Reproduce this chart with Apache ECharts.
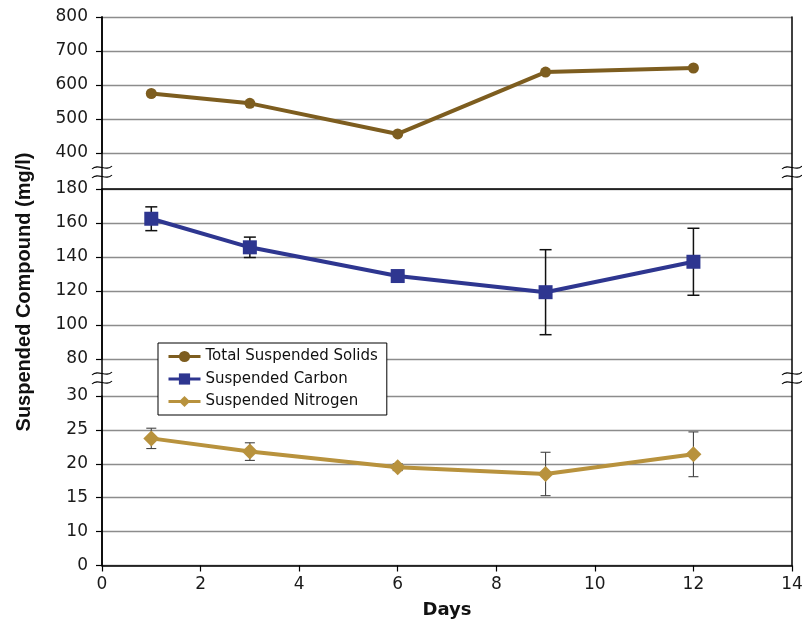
<!DOCTYPE html>
<html>
<head>
<meta charset="utf-8">
<script src="https://cdn.jsdelivr.net/npm/echarts@6/dist/echarts.min.js"></script>
<style>
  html, body { margin: 0; padding: 0; background: #fff; }
  #chart { width: 802px; height: 625px; }
</style>
</head>
<body>
<div id="chart"></div>
<script>
// ---- data ----
const days = [1, 3, 6, 9, 12];
const tssValues = [575, 546, 456, 638, 650];
const carbonValues = [162.5, 145.7, 128.8, 119.3, 137.2];
const carbonErr = [7, 6, 2, 25, 19.7];
const nitrogenValues = [23.75, 21.8, 19.5, 18.5, 21.4];
const nitrogenErr = [1.5, 1.3, 0.5, 3.2, 3.3];
const seriesNames = ['Total Suspended Solids', 'Suspended Carbon', 'Suspended Nitrogen'];
const xTicks = [0, 2, 4, 6, 8, 10, 12, 14];
const yTitle = 'Suspended Compound (mg/l)';
const xTitle = 'Days';

// ---- layout / style ----
const L = 102, R = 10, W = 802;
const colors = ['#7d5d1f', '#2e3690', '#b8923d'];
const gridGray = '#8c8c8c';
const tickFont = { fontFamily: 'DejaVu Sans', fontSize: 17, color: '#1a1a1a' };

function panelY(gridIdx, min, max, interval, extra) {
  return Object.assign({
    type: 'value', gridIndex: gridIdx, min: min, max: max, interval: interval,
    axisLine: { show: true, lineStyle: { color: '#000', width: 1.5 } },
    axisTick: { show: true, inside: false, length: 6, lineStyle: { color: '#000', width: 1.2 } },
    axisLabel: Object.assign({ margin: 14 }, tickFont),
    splitLine: { show: true, lineStyle: { color: gridGray, width: 1.3 } }
  }, extra || {});
}
function panelX(gridIdx, extra) {
  return Object.assign({
    type: 'value', gridIndex: gridIdx, min: xTicks[0], max: xTicks[xTicks.length - 1], interval: 2,
    axisLine: { show: false }, axisTick: { show: false }, axisLabel: { show: false },
    splitLine: { show: false }
  }, extra || {});
}

const chart = echarts.init(document.getElementById('chart'), null, { renderer: 'canvas' });

function errRender(color, lw, cap) {
  return function (params, api) {
    const x = api.value(0), y = api.value(1), e = api.value(2);
    const top = api.coord([x, y + e]);
    const bot = api.coord([x, y - e]);
    const st = { stroke: color, lineWidth: lw };
    return {
      type: 'group',
      children: [
        { type: 'line', shape: { x1: top[0], y1: top[1], x2: bot[0], y2: bot[1] }, style: st },
        { type: 'line', shape: { x1: top[0] - cap, y1: top[1], x2: top[0] + cap, y2: top[1] }, style: st },
        { type: 'line', shape: { x1: bot[0] - cap, y1: bot[1], x2: bot[0] + cap, y2: bot[1] }, style: st }
      ]
    };
  };
}

function breakMark(x, y) {
  const curve = (yy) => ({
    type: 'bezierCurve',
    shape: { x1: x - 10, y1: yy + 1.5, cpx1: x - 4, cpy1: yy - 5, cpx2: x + 4, cpy2: yy + 5, x2: x + 10, y2: yy - 1.5 },
    style: { stroke: '#000', lineWidth: 1.1, fill: null }
  });
  return {
    type: 'group', z: 100,
    children: [
      { type: 'rect', shape: { x: x - 3, y: y - 4.5, width: 6, height: 9 }, style: { fill: '#fff' } },
      curve(y - 4.5), curve(y + 4.5)
    ]
  };
}

const gridBase = { left: L, right: R, outerBoundsMode: 'none', containLabel: false };

const option = {
  animation: false,
  backgroundColor: '#fff',
  grid: [
    Object.assign({ top: 17, height: 136 }, gridBase),    // 800 -> 400
    Object.assign({ top: 189, height: 170 }, gridBase),   // 180 -> 80
    Object.assign({ top: 396, height: 169.5 }, gridBase), // 30 -> 5 (labelled 0)
    Object.assign({ top: 17, height: 548.5 }, gridBase)   // frame
  ],
  xAxis: [
    panelX(0),
    panelX(1, { position: 'top', axisLine: { show: true, lineStyle: { color: '#000', width: 1.5 } } }),
    panelX(2, {
      axisLine: { show: true, lineStyle: { color: '#000', width: 1.5 } },
      axisTick: { show: true, inside: false, length: 6, lineStyle: { color: '#000', width: 1.2 } },
      axisLabel: Object.assign({ show: true, margin: 11 }, tickFont),
      name: xTitle, nameLocation: 'middle', nameGap: 36,
      nameTextStyle: { fontFamily: 'DejaVu Sans', fontWeight: 'bold', fontSize: 18, color: '#111' }
    }),
    panelX(3, { show: false })
  ],
  yAxis: [
    panelY(0, 400, 800, 100),
    panelY(1, 80, 180, 20),
    panelY(2, 5, 30, 5, {
      axisLabel: Object.assign({ margin: 14, formatter: v => (v === 5 ? '0' : String(v)) }, tickFont)
    }),
    { type: 'value', gridIndex: 3, min: 0, max: 1, position: 'left',
      axisLine: { show: true, lineStyle: { color: '#000', width: 1.5 } },
      axisTick: { show: false }, axisLabel: { show: false }, splitLine: { show: false } },
    { type: 'value', gridIndex: 3, min: 0, max: 1, position: 'right',
      axisLine: { show: true, lineStyle: { color: '#000', width: 1.5 } },
      axisTick: { show: false }, axisLabel: { show: false }, splitLine: { show: false } }
  ],
  legend: {
    data: seriesNames,
    orient: 'vertical', left: 158, top: 343,
    itemWidth: 32, itemHeight: 14, itemGap: 7.5,
    padding: [6, 9, 6, 9],
    backgroundColor: '#fff', borderColor: '#000', borderWidth: 1,
    lineStyle: { width: 3 },
    textStyle: { fontFamily: 'DejaVu Sans', fontSize: 15, color: '#111' },
    z: 20
  },
  series: [
    {
      name: seriesNames[0], type: 'line', xAxisIndex: 0, yAxisIndex: 0, z: 5,
      data: days.map((d, i) => [d, tssValues[i]]),
      symbol: 'circle', symbolSize: 11,
      lineStyle: { color: colors[0], width: 4 }, itemStyle: { color: colors[0] }
    },
    {
      name: seriesNames[1], type: 'line', xAxisIndex: 1, yAxisIndex: 1, z: 5,
      data: days.map((d, i) => [d, carbonValues[i]]),
      symbol: 'rect', symbolSize: 14,
      lineStyle: { color: colors[1], width: 4 }, itemStyle: { color: colors[1] }
    },
    {
      name: seriesNames[2], type: 'line', xAxisIndex: 2, yAxisIndex: 2, z: 5,
      data: days.map((d, i) => [d, nitrogenValues[i]]),
      symbol: 'diamond', symbolSize: 16,
      lineStyle: { color: colors[2], width: 4 }, itemStyle: { color: colors[2] }
    },
    {
      type: 'custom', xAxisIndex: 1, yAxisIndex: 1, z: 4, silent: true,
      renderItem: errRender('#111', 1.5, 6),
      encode: { x: 0, y: 1 },
      data: days.map((d, i) => [d, carbonValues[i], carbonErr[i]])
    },
    {
      type: 'custom', xAxisIndex: 2, yAxisIndex: 2, z: 4, silent: true,
      renderItem: errRender('#444', 1.1, 5),
      encode: { x: 0, y: 1 },
      data: days.map((d, i) => [d, nitrogenValues[i], nitrogenErr[i]])
    }
  ],
  graphic: [
    {
      type: 'text', x: 24, y: 292, rotation: Math.PI / 2, z: 50,
      style: {
        text: yTitle, align: 'center', verticalAlign: 'middle',
        font: 'bold 20px "Liberation Sans", Arial, sans-serif', fill: '#111'
      }
    },
    breakMark(L, 172), breakMark(W - R, 172),
    breakMark(L, 378), breakMark(W - R, 378)
  ]
};

chart.setOption(option);
</script>
</body>
</html>
